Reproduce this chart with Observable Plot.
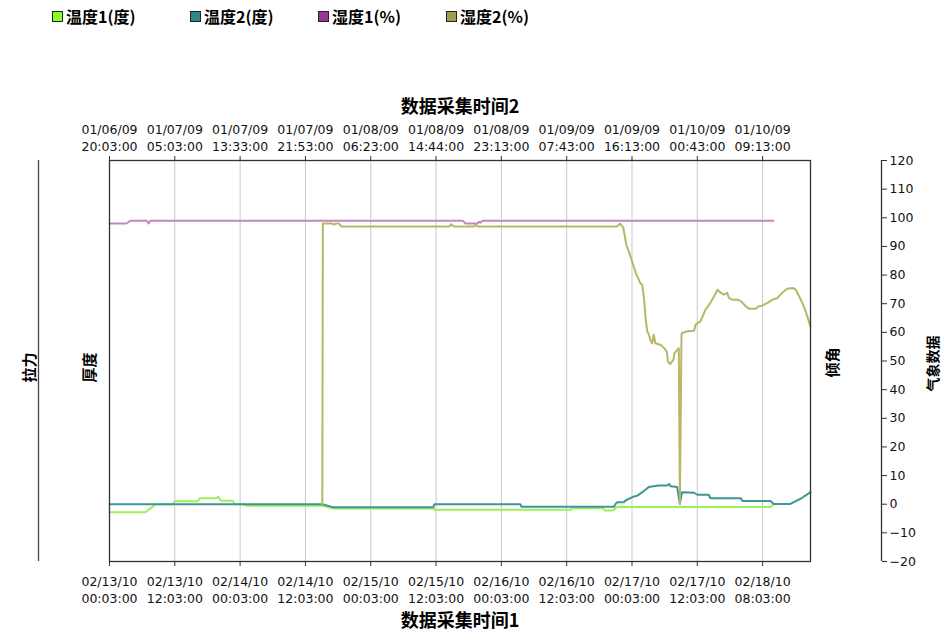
<!DOCTYPE html>
<html>
<head>
<meta charset="utf-8">
<script src="https://cdn.jsdelivr.net/npm/d3@7"></script>
<script src="https://cdn.jsdelivr.net/npm/@observablehq/plot@0.6"></script>
<style>
  html, body { margin: 0; padding: 0; background: #fff; }
  #wrap { width: 943px; }
  #legend { position: relative; height: 30px; font-family: "Noto Sans CJK SC", "Liberation Sans", sans-serif; font-weight: bold; font-size: 16px; color: #000; }
  .item { position: absolute; top: 5px; display: flex; align-items: center; white-space: nowrap; line-height: 22px; }
  .sw { width: 9px; height: 9px; border: 1px solid #222; margin-right: 3px; }
</style>
</head>
<body>
<div id="wrap">
  <div id="legend"></div>
  <div id="chart"></div>
</div>
<script>
// ---- data (hours since the first bottom tick, value) ----
const seriesNames = ["温度1(度)", "温度2(度)", "湿度1(%)", "湿度2(%)"];
const seriesColors = ["#88ff22", "#2a8a8a", "#993399", "#a0a048"];
const lineColors = ["#9cf05a", "#3f9696", "#c287c2", "#b7b766"];

const tickHours = [0, 12, 24, 36, 48, 60, 72, 84, 96, 108, 120];
const bottomTickLabels = [
  "02/13/10\n00:03:00", "02/13/10\n12:03:00", "02/14/10\n00:03:00", "02/14/10\n12:03:00",
  "02/15/10\n00:03:00", "02/15/10\n12:03:00", "02/16/10\n00:03:00", "02/16/10\n12:03:00",
  "02/17/10\n00:03:00", "02/17/10\n12:03:00", "02/18/10\n08:03:00"
];
const topTickLabels = [
  "01/06/09\n20:03:00", "01/07/09\n05:03:00", "01/07/09\n13:33:00", "01/07/09\n21:53:00",
  "01/08/09\n06:23:00", "01/08/09\n14:44:00", "01/08/09\n23:13:00", "01/09/09\n07:43:00",
  "01/09/09\n16:13:00", "01/10/09\n00:43:00", "01/10/09\n09:13:00"
];
const rightTicks = [-20, -10, 0, 10, 20, 30, 40, 50, 60, 70, 80, 90, 100, 110, 120];
const xMax = 128.8;

const temp1 = [[0,-2.8],[6.6,-2.8],[8.5,0],[11.6,0],[12.0,1],[16.2,1],[16.6,2.1],[19.6,2.1],[20.0,2.6],[20.3,1.6],[20.6,1.2],[22.6,1.2],[23.0,0],[24.8,0],[25.1,-0.5],[39.1,-0.5],[41.0,-1.5],[59.5,-1.5],[59.7,-1.9],[84.8,-1.9],[85.0,-1.4],[90.7,-1.4],[91.0,-2.2],[92.5,-2.2],[93.2,-1],[121.5,-1],[122.0,0.2]];
const temp2 = [[0,0],[39.1,0],[41.2,-1.1],[59.5,-1.1],[59.7,0],[75.5,0],[75.7,-0.9],[92.7,-0.9],[93.0,0.1],[93.3,0.7],[94.5,0.7],[94.8,1.3],[96.1,2.5],[97.0,3.0],[97.9,4.2],[99.1,6.0],[100.9,6.5],[102.5,6.5],[102.8,7.1],[103.1,6.3],[104.3,6.0],[104.8,0.1],[105.2,4.2],[107.4,4.0],[108.0,3.3],[110.1,3.3],[110.4,2.1],[116.0,2.1],[116.3,1.1],[121.5,1.1],[122.0,0.1],[125.1,0.1],[126.1,1.1],[127.0,1.9],[128.8,4.2]];
const hum1 = [[0,98],[3.1,98],[3.9,99],[6.8,99],[7.2,98],[7.5,99],[64.9,99],[65.4,98],[67.6,98],[67.9,98.6],[68.2,98.3],[68.5,99],[122,99]];
const hum2 = [[39.1,0],[39.2,98],[40.9,98],[41.3,97.6],[41.6,98],[42.2,98],[42.6,97],[62.5,97],[62.8,97.8],[63.2,97],[67.0,97],[67.3,97.6],[67.6,97],[93.3,97],[93.8,98],[94.4,96.6],[95.0,90.2],[95.4,88.4],[96.1,84.3],[96.7,80.8],[97.5,77.3],[97.9,76.5],[98.2,72.0],[98.5,65],[98.8,60.4],[99.1,59.2],[99.4,57.3],[99.7,56.2],[100.0,59.2],[100.3,56.2],[101.3,55.6],[101.9,54.5],[102.4,53.3],[102.6,49.8],[103.0,48.9],[103.6,50.4],[103.8,52.7],[104.3,53.9],[104.6,54.5],[104.8,0],[105.1,59.2],[105.2,59.8],[106.2,60.4],[107.4,60.6],[107.7,62.7],[108.6,63.9],[109.5,67.9],[110.4,70.3],[111.1,72.6],[111.7,74.9],[112.3,73.8],[112.9,73.2],[113.5,73.8],[113.8,72.0],[114.4,71.4],[115.4,71.4],[116.0,70.9],[116.9,69.1],[117.5,68.2],[118.7,68.2],[119.3,69.1],[119.9,69.3],[120.9,70.3],[121.8,71.4],[122.7,72.0],[123.6,73.8],[124.5,75.2],[125.5,75.5],[126.1,74.9],[126.7,72.6],[127.3,70.3],[127.9,67.4],[128.8,62.1]];

const allSeries = [temp1, temp2, hum1, hum2];
const rows = allSeries.flatMap((s, k) => s.map(([h, v]) => ({h, v, name: seriesNames[k]})));

// ---- legend ----
const legendLeft = [52, 190, 318, 446];
const legend = document.getElementById("legend");
seriesNames.forEach((n, i) => {
  const it = document.createElement("div");
  it.className = "item";
  it.style.left = legendLeft[i] + "px";
  it.innerHTML = `<span class="sw" style="background:${seriesColors[i]}"></span><span>${n}</span>`;
  legend.appendChild(it);
});

const fmt = (labels) => (d) => labels[tickHours.indexOf(d)];
const bold = {fontWeight: "bold", fontFamily: "Noto Sans CJK SC, sans-serif", fill: "#000", textAnchor: "middle"};
const tickFont = {fontSize: 12.5, fontFamily: "DejaVu Sans, sans-serif"};

const chart = Plot.plot({
  width: 943,
  height: 605,
  marginTop: 130,
  marginBottom: 74,
  marginLeft: 109,
  marginRight: 133,
  style: {fontFamily: "DejaVu Sans, Noto Sans CJK SC, sans-serif", fontSize: "12.5px", background: "#fff", color: "#111"},
  x: {domain: [0, xMax]},
  y: {domain: [-20, 120]},
  color: {domain: seriesNames, range: lineColors},
  marks: [
    Plot.ruleX(tickHours.slice(1), {stroke: "#c8c8c8", strokeWidth: 1}),
    Plot.line(rows, {x: "h", y: "v", z: "name", stroke: "name", strokeWidth: 2, curve: "linear"}),
    Plot.frame({stroke: "#333", strokeWidth: 1.3}),
    Plot.axisX(tickHours, {anchor: "bottom", tickFormat: fmt(bottomTickLabels), tickSize: 5, tickPadding: 7, lineHeight: 1.36, label: null, stroke: "#333", ...tickFont}),
    Plot.axisX(tickHours, {anchor: "top", tickFormat: fmt(topTickLabels), tickSize: 5, tickPadding: 5, lineHeight: 1.36, label: null, stroke: "#333", ...tickFont}),
    Plot.axisY(rightTicks, {anchor: "right", dx: 71, tickSize: 5, tickPadding: 3, label: null, stroke: "#333", ...tickFont}),
    Plot.ruleX([xMax], {dx: 71, stroke: "#333", strokeWidth: 1.3}),
    Plot.ruleX([0], {dx: -71, stroke: "#444", strokeWidth: 1.3}),
    Plot.text(["数据采集时间2"], {frameAnchor: "top", dy: -60, fontSize: 18, ...bold}),
    Plot.text(["数据采集时间1"], {frameAnchor: "bottom", dy: 65, fontSize: 18, ...bold}),
    Plot.text(["拉力"], {frameAnchor: "left", dx: -79, dy: 6.5, rotate: -90, fontSize: 15, ...bold}),
    Plot.text(["厚度"], {frameAnchor: "left", dx: -19, dy: 6.5, rotate: -90, fontSize: 15, ...bold}),
    Plot.text(["倾角"], {frameAnchor: "right", dx: 23, dy: 1.5, rotate: -90, fontSize: 15, ...bold}),
    Plot.text(["气象数据"], {frameAnchor: "right", dx: 123, dy: 2.5, rotate: -90, fontSize: 14, ...bold})
  ]
});
document.getElementById("chart").appendChild(chart);
</script>
</body>
</html>
